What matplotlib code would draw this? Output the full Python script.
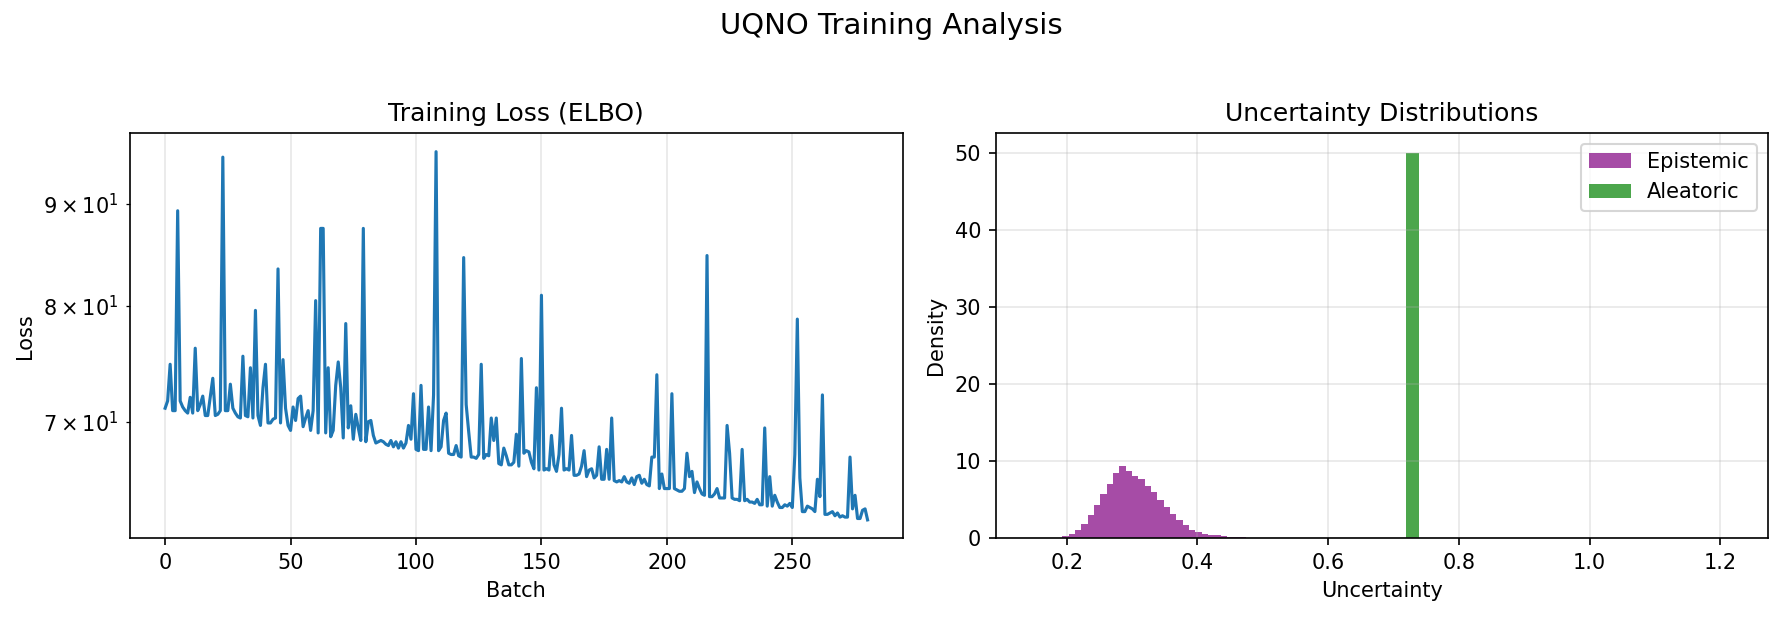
import numpy as np
import matplotlib
matplotlib.use("Agg")
import matplotlib.pyplot as plt

# training loss per batch (log scale)
loss = [
    71.1, 71.7, 74.8, 70.9, 70.9, 89.3, 71.7, 71.2, 70.9, 70.7,
    72.0, 70.7, 76.2, 70.9, 71.4, 72.1, 70.5, 70.5, 72.0, 73.6,
    70.5, 70.6, 70.9, 95.0, 70.9, 70.9, 73.1, 71.1, 70.7, 70.4,
    70.3, 75.5, 70.5, 70.4, 74.5, 70.3, 79.6, 70.5, 69.7, 72.8,
    74.8, 69.9, 69.9, 70.2, 70.3, 83.5, 69.9, 75.2, 71.1, 69.7,
    69.3, 71.2, 70.1, 71.9, 72.1, 69.6, 70.3, 70.9, 69.3, 70.9,
    80.5, 69.1, 87.5, 87.5, 69.1, 74.5, 68.8, 69.3, 73.0, 75.0,
    72.8, 68.7, 78.4, 69.5, 71.3, 68.6, 70.6, 69.5, 68.5, 87.5,
    68.4, 70.0, 70.1, 68.9, 68.3, 68.4, 68.5, 68.4, 68.2, 68.1,
    68.5, 68.0, 68.4, 67.9, 68.4, 67.9, 68.3, 69.7, 68.6, 72.3,
    67.8, 67.7, 73.0, 67.8, 67.8, 71.2, 67.7, 72.2, 95.6, 67.7,
    68.0, 70.1, 70.7, 67.5, 67.4, 67.4, 68.1, 67.3, 67.2, 84.6,
    71.4, 69.2, 67.2, 67.2, 67.1, 67.4, 74.8, 67.1, 67.4, 67.3,
    70.3, 68.5, 70.3, 66.7, 66.6, 67.9, 67.3, 66.6, 66.6, 66.8,
    69.0, 66.5, 75.3, 67.5, 67.7, 67.6, 66.8, 66.3, 72.8, 66.2,
    81.0, 66.2, 66.3, 66.2, 68.9, 66.6, 66.1, 67.4, 71.1, 66.2,
    66.3, 66.2, 68.9, 65.8, 65.8, 65.9, 66.5, 67.7, 65.7, 66.2,
    66.3, 65.6, 65.8, 68.0, 65.5, 65.5, 67.8, 65.5, 70.3, 65.4,
    65.3, 65.4, 65.3, 65.7, 65.3, 65.2, 65.6, 65.1, 65.7, 65.8,
    65.2, 65.5, 65.1, 65.0, 67.2, 67.2, 73.9, 64.8, 65.9, 64.8,
    64.8, 64.8, 72.3, 64.8, 64.7, 64.6, 64.6, 64.8, 67.5, 65.7,
    66.1, 64.5, 65.3, 64.8, 64.4, 64.3, 84.8, 64.2, 64.2, 64.4,
    64.8, 64.1, 64.1, 64.1, 69.7, 67.5, 64.1, 64.0, 64.0, 63.9,
    67.8, 63.9, 64.0, 63.8, 63.8, 63.7, 64.0, 63.6, 63.6, 69.5,
    63.5, 65.7, 63.5, 64.3, 63.8, 63.4, 63.4, 63.6, 63.5, 63.7,
    63.4, 67.4, 78.8, 65.6, 63.1, 63.1, 63.5, 63.4, 63.3, 63.1,
    65.5, 64.2, 72.2, 62.9, 62.9, 63.0, 63.1, 62.8, 63.0, 62.7,
    62.8, 62.7, 62.7, 67.2, 63.3, 64.3, 62.6, 62.6, 63.2, 63.3,
    62.5,
]

# epistemic histogram: 50 bins, density per bin
epi_start = 0.145
epi_width = 0.00968
epi_density = [
    0.0, 0.0, 0.0, 0.01, 0.06, 0.30, 0.56, 1.08, 1.86, 3.03,
    4.32, 5.75, 7.04, 8.47, 9.38, 8.73, 8.08, 7.69, 6.78, 6.01,
    5.01, 4.06, 3.15, 2.38, 1.73, 1.08, 0.82, 0.56, 0.43, 0.39,
    0.30, 0.20, 0.17, 0.15, 0.10, 0.06, 0.03, 0.02, 0.02, 0.01,
    0.01, 0.01, 0.005, 0.005, 0.005, 0.0, 0.0, 0.0, 0.0, 0.005,
]

# aleatoric: one constant value -> numpy spreads 50 bins over value +/- 0.5
alea_value = 0.7186
alea_bins = 50
alea_peak = 50.0

fig = plt.figure(figsize=(1783 / 150, 617 / 150), dpi=150)
ax1 = fig.add_axes([130 / 1783, 1 - 538.3 / 617, 772.7 / 1783, 405 / 617])
ax2 = fig.add_axes([995.7 / 1783, 1 - 538.3 / 617, 772 / 1783, 405 / 617])

fig.suptitle("UQNO Training Analysis", fontsize=14)

# left: loss curve
ax1.plot(np.arange(len(loss)), loss)
ax1.set_yscale("log")
ax1.set_title("Training Loss (ELBO)")
ax1.set_xlabel("Batch")
ax1.set_ylabel("Loss")
ax1.grid(True, alpha=0.3)

# right: uncertainty histograms
epi_edges = epi_start + epi_width * np.arange(len(epi_density) + 1)
epi_centers = (epi_edges[:-1] + epi_edges[1:]) / 2
ax2.hist(epi_centers, bins=epi_edges, weights=epi_density,
         color="purple", alpha=0.7, label="Epistemic")

alea_edges = np.linspace(alea_value - 0.5, alea_value + 0.5, alea_bins + 1)
alea_centers = (alea_edges[:-1] + alea_edges[1:]) / 2
alea_density = np.zeros(alea_bins)
alea_density[alea_bins // 2] = alea_peak
ax2.hist(alea_centers, bins=alea_edges, weights=alea_density,
         color="green", alpha=0.7, label="Aleatoric")

ax2.set_title("Uncertainty Distributions")
ax2.set_xlabel("Uncertainty")
ax2.set_ylabel("Density")
ax2.legend()
ax2.grid(True, alpha=0.3)

fig.savefig("out.png", dpi=150)
